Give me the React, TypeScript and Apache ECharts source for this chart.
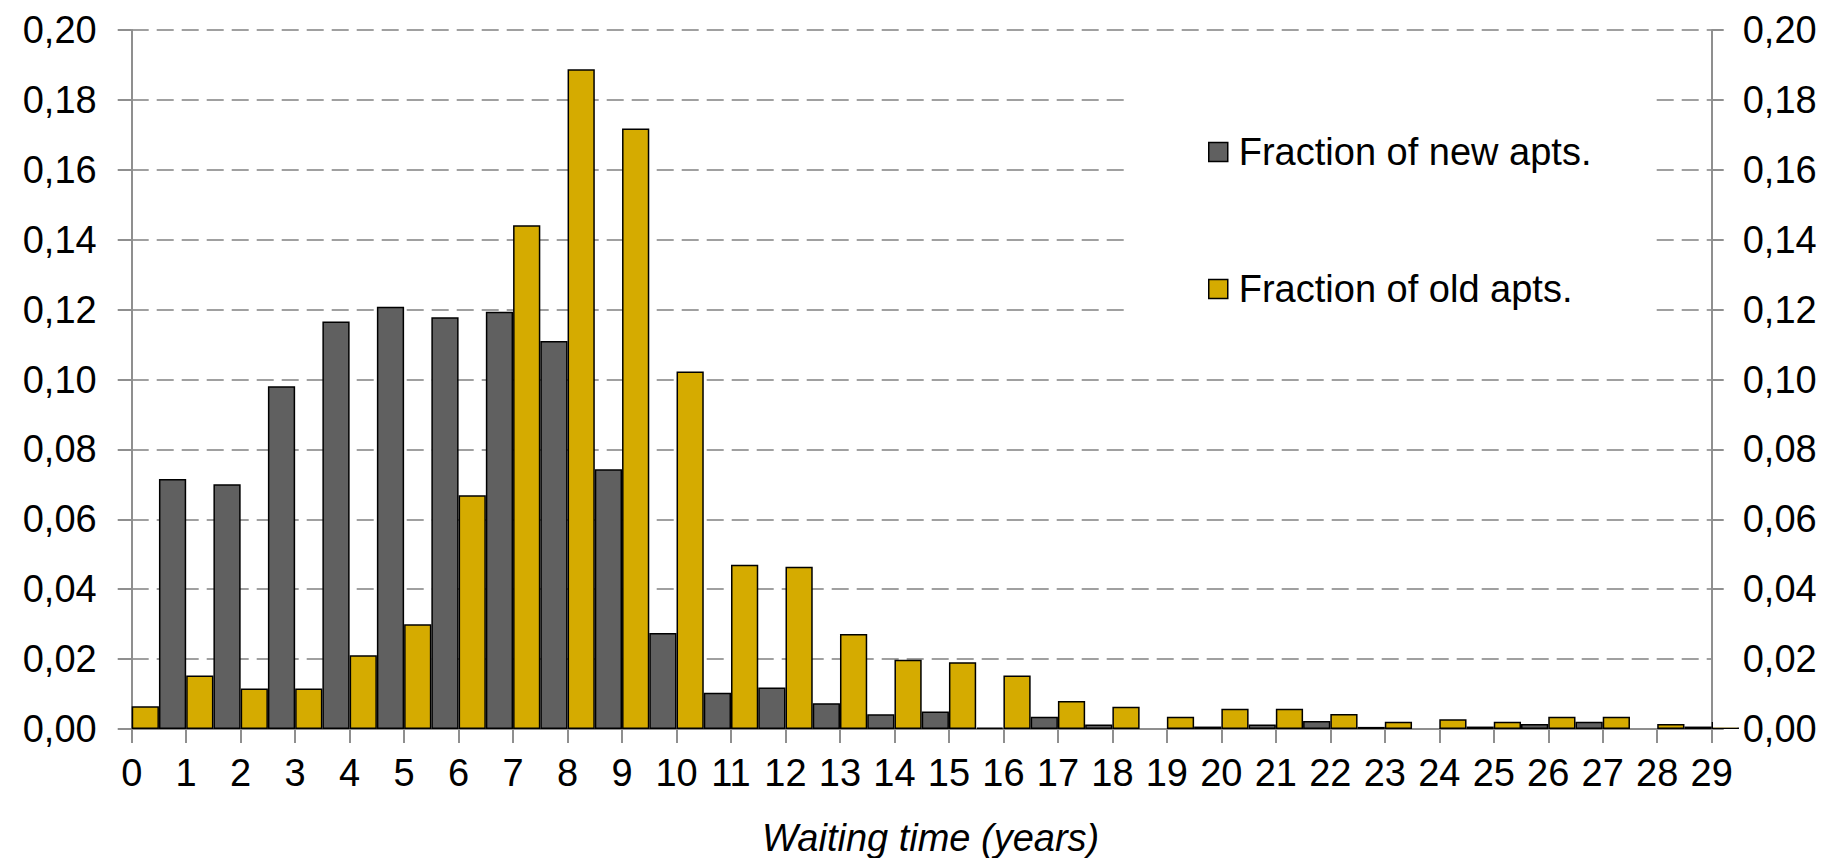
import React, { useEffect, useRef } from 'react';
import * as echarts from 'echarts';

const categories = ['0', '1', '2', '3', '4', '5', '6', '7', '8', '9', '10', '11', '12', '13', '14', '15', '16', '17', '18', '19', '20', '21', '22', '23', '24', '25', '26', '27', '28', '29'];

const newApts = [0, 0.0715, 0.07, 0.0981, 0.1166, 0.1208, 0.1178, 0.1194, 0.111, 0.0743, 0.0275, 0.0104, 0.0119, 0.0074, 0.0042, 0.005, 0.0004, 0.0035, 0.0013, 0, 0.0007, 0.0013, 0.0023, 0.0006, 0, 0.0007, 0.0014, 0.0021, 0, 0.0007];

const oldApts = [0.0065, 0.0153, 0.0116, 0.0116, 0.0211, 0.03, 0.0669, 0.1441, 0.1888, 0.1718, 0.1023, 0.047, 0.0464, 0.0272, 0.0198, 0.0191, 0.0153, 0.008, 0.0064, 0.0035, 0.0058, 0.0058, 0.0043, 0.0021, 0.0028, 0.0021, 0.0035, 0.0035, 0.0014, 0.002];

const seriesNames = ['Fraction of new apts.', 'Fraction of old apts.'];
const xTitle = 'Waiting time (years)';

export default function App() {
  const ref = useRef<HTMLDivElement>(null);
  useEffect(() => {
    const chart = echarts.init(ref.current as HTMLDivElement, null, { renderer: 'svg' });
    const font = '"Liberation Sans", Arial, sans-serif';
    const fmt = (v: number) => v.toFixed(2).replace('.', ',');
    const axisGray = '#8f8f8f';
    const fs = 38;
    // zero values are not drawn at all (no outline), like the original
    const toData = (arr: number[]) =>
      arr.map((v) => (v === 0 ? { value: v, itemStyle: { borderWidth: 0, opacity: 0 } } : v));
    chart.setOption({
      animation: false,
      backgroundColor: '#ffffff',
      textStyle: { fontFamily: font },
      grid: { left: 131.7, right: 114.3, top: 30, bottom: 129, containLabel: false, outerBoundsMode: 'none' },
      legend: {
        data: seriesNames,
        orient: 'vertical',
        left: 1129,
        top: 62,
        icon: 'rect',
        itemWidth: 19,
        itemHeight: 19,
        itemGap: 99,
        itemStyle: { borderColor: '#000', borderWidth: 1.5 },
        textStyle: { fontSize: fs, color: '#000', fontFamily: font, padding: [0, 0, 0, 6] },
        padding: [71, 58, 38, 79],
        backgroundColor: '#ffffff',
        selectedMode: false,
      },
      xAxis: {
        type: 'category',
        data: categories,
        boundaryGap: false,
        name: xTitle,
        nameLocation: 'middle',
        nameGap: 90,
        nameTextStyle: { fontSize: fs, fontStyle: 'italic', color: '#000', fontFamily: font, padding: [0, 0, 0, 18] },
        axisLine: { show: true, lineStyle: { color: axisGray, width: 2 } },
        axisTick: { show: true, length: 14, lineStyle: { color: axisGray, width: 2 } },
        axisLabel: { interval: 0, margin: 25, fontSize: fs, color: '#000', fontFamily: font },
        splitLine: { show: false },
      },
      yAxis: [
        {
          type: 'value',
          min: 0,
          max: 0.2,
          interval: 0.02,
          position: 'left',
          axisLine: { show: true, lineStyle: { color: axisGray, width: 2 } },
          axisTick: { show: true, length: 14, lineStyle: { color: axisGray, width: 2 } },
          axisLabel: { margin: 35, fontSize: fs, color: '#000', fontFamily: font, formatter: fmt },
          splitLine: { show: true, lineStyle: { color: '#a0a0a0', width: 2, type: [17, 8] } },
        },
        {
          type: 'value',
          min: 0,
          max: 0.2,
          interval: 0.02,
          position: 'right',
          axisLine: { show: true, lineStyle: { color: axisGray, width: 2 } },
          axisTick: { show: true, length: 12, lineStyle: { color: axisGray, width: 2 } },
          axisLabel: { margin: 31, fontSize: fs, color: '#000', fontFamily: font, formatter: fmt },
          splitLine: { show: false },
        },
      ],
      graphic: [
        {
          // mask the part of the last bar that falls outside the plot area
          type: 'rect',
          shape: { x: 1713, y: 600, width: 28, height: 127.5 },
          style: { fill: '#ffffff' },
          z: 50,
          silent: true,
        },
      ],
      series: [
        {
          name: seriesNames[0],
          type: 'bar',
          data: toData(newApts),
          yAxisIndex: 0,
          barGap: '0%',
          barCategoryGap: '0%',
          clip: true,
          itemStyle: { color: '#606060', borderColor: '#000', borderWidth: 1.5 },
        },
        {
          name: seriesNames[1],
          type: 'bar',
          data: toData(oldApts),
          yAxisIndex: 0,
          barGap: '0%',
          barCategoryGap: '0%',
          clip: true,
          itemStyle: { color: '#d5ab00', borderColor: '#000', borderWidth: 1.5 },
        },
      ],
    });
    return () => chart.dispose();
  }, []);
  return <div ref={ref} style={{ position: 'absolute', left: 0, top: 0, width: 1826, height: 858 }} />;
}
